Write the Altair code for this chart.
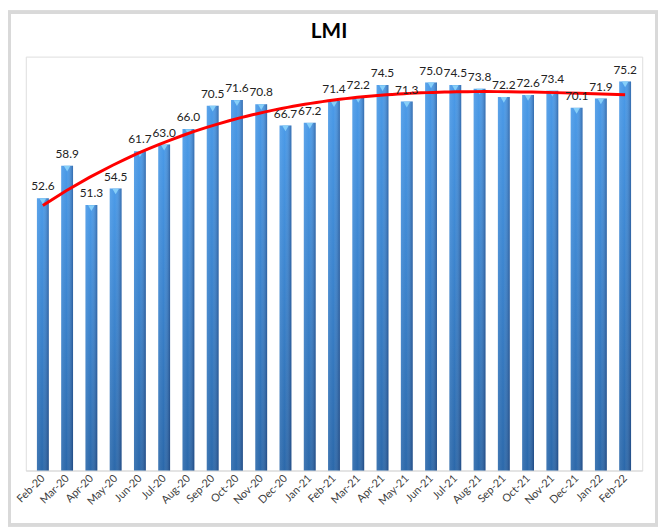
import altair as alt
import pandas as pd

months = ["Feb-20", "Mar-20", "Apr-20", "May-20", "Jun-20", "Jul-20", "Aug-20", "Sep-20",
          "Oct-20", "Nov-20", "Dec-20", "Jan-21", "Feb-21", "Mar-21", "Apr-21", "May-21",
          "Jun-21", "Jul-21", "Aug-21", "Sep-21", "Oct-21", "Nov-21", "Dec-21", "Jan-22", "Feb-22"]
values = [52.6, 58.9, 51.3, 54.5, 61.7, 63.0, 66.0, 70.5, 71.6, 70.8, 66.7, 67.2, 71.4, 72.2,
          74.5, 71.3, 75.0, 74.5, 73.8, 72.2, 72.6, 73.4, 70.1, 71.9, 75.2]
title_text = ["LMI"]

df = pd.DataFrame({"idx": list(range(len(months))), "month": months, "value": values})

label_js = "[" + ",".join(f"'{m}'" for m in months) + "]"

W, H = 624, 419
FONT = "Lato"

xs = alt.Scale(domain=[-0.5, len(months) - 0.5], nice=False, zero=False)
ys = alt.Scale(domain=[0, 80], nice=False)

x_axis = alt.Axis(
    values=list(range(len(months))), labelExpr=f"{label_js}[datum.value]",
    labelAngle=-45, labelAlign="right", labelBaseline="middle", labelPadding=6,
    ticks=False, grid=False, domainColor="#d9d9d9", domainWidth=1.2,
    labelFont=FONT, labelFontSize=11, labelColor="#404040", title=None, labelOverlap=False,
    labelBound=False, labelFlush=False)
x_enc = alt.X("idx:Q", scale=xs, axis=x_axis)
y_enc = alt.Y("value:Q", scale=ys, axis=None)

base = alt.Chart(df)

bars = base.mark_bar(size=12, color=alt.Gradient(
    gradient="linear", x1=0, y1=0, x2=0, y2=1,
    stops=[alt.GradientStop(color="#4a9ae8", offset=0),
           alt.GradientStop(color="#3a82cc", offset=0.5),
           alt.GradientStop(color="#2b68aa", offset=1)])).encode(x=x_enc, y=y_enc)

shade = base.mark_bar(size=12, color=alt.Gradient(
    gradient="linear", x1=0, y1=0, x2=1, y2=0,
    stops=[alt.GradientStop(color="rgba(255,255,255,0.10)", offset=0),
           alt.GradientStop(color="rgba(255,255,255,0.0)", offset=0.45),
           alt.GradientStop(color="rgba(0,0,40,0.30)", offset=1)])).encode(x=x_enc, y=y_enc)

caps = base.mark_point(shape="triangle-down", filled=True, color="#86cff9", opacity=1,
                       size=45).encode(x=x_enc, y=y_enc, yOffset=alt.value(3))

labels = base.mark_text(font=FONT, fontSize=12, color="#222222", baseline="alphabetic",
                        dy=-8).encode(x=x_enc, y=y_enc, text=alt.Text("value:Q", format=".1f"))

trend = base.transform_regression("idx", "value", method="poly", order=3,
                                  extent=[0, len(months) - 1]).mark_line(
    color="#ff0000", strokeWidth=3).encode(x=x_enc, y=y_enc)

frame = base.mark_rect(filled=False, stroke="#d9d9d9", strokeWidth=3).encode(
    x=alt.value(-17), x2=alt.value(W + 15), y=alt.value(-45), y2=alt.value(H + 55))

title = alt.Chart(pd.DataFrame({"t": title_text})).mark_text(
    font=FONT, fontSize=21, fontWeight="bold", color="#000000", baseline="alphabetic",
    align="center").encode(text="t:N", x=alt.value(W / 2 - 5), y=alt.value(-19))

chart = alt.layer(frame, bars, shade, caps, trend, labels, title).properties(
    width=W, height=H,
    autosize=alt.AutoSizeParams(type="none"),
    padding={"left": 18, "top": 46, "right": 16, "bottom": 56},
).configure_view(stroke=None).configure(background="white")

chart.save("out.html", embed_options={"renderer": "svg", "actions": False})
